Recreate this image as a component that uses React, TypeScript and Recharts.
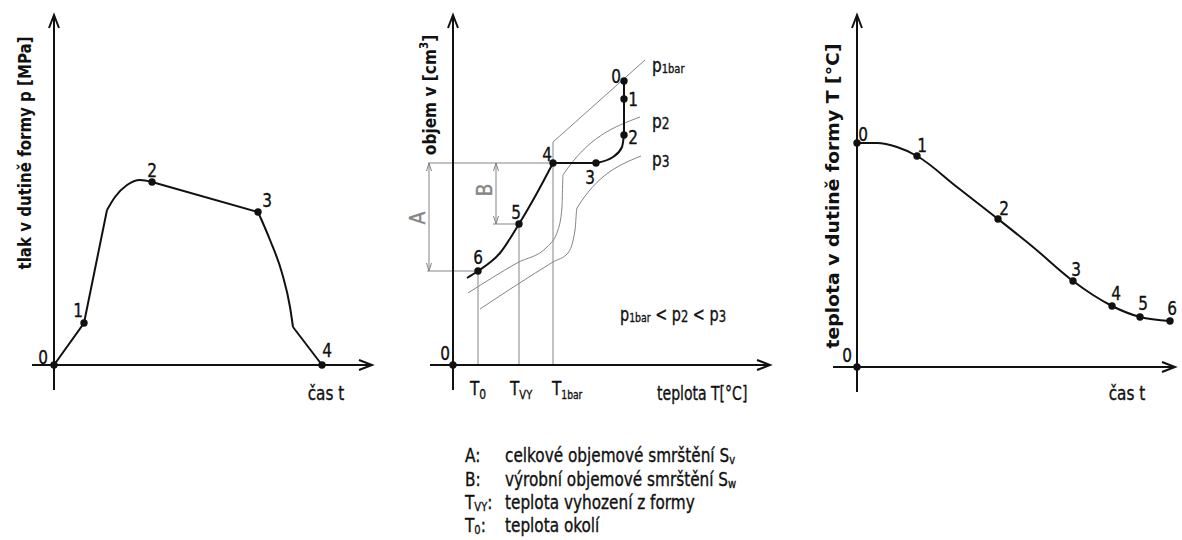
import React from "react";
import { ComposedChart, Line, Scatter, XAxis, YAxis, ReferenceLine } from "recharts";

const FONT = "'DejaVu Sans Condensed', 'Liberation Sans Narrow', 'DejaVu Sans', sans-serif";
const INK = "#111";
const GRAY = "#858585";

// panel 1: tlak v dutině formy p vs. čas t
const pressureRise = [{ x: 0, y: 0 }, { x: 30, y: 42 }, { x: 53, y: 155 }];
const pressurePeak = [{ x: 53, y: 155 }, { x: 61, y: 168 }, { x: 73, y: 180 }, { x: 86, y: 185 }, { x: 98, y: 183 }];
const pressureHold = [{ x: 98, y: 183 }, { x: 204, y: 153 }];
const pressureDrop = [{ x: 204, y: 153 }, { x: 216, y: 125 }, { x: 228, y: 92 }, { x: 236, y: 58 }, { x: 239, y: 38 }];
const pressureTail = [{ x: 239, y: 38 }, { x: 268, y: 0 }];
const pressurePoints = [
  { x: 0, y: 0, label: "0" },
  { x: 30, y: 42, label: "1" },
  { x: 98, y: 183, label: "2" },
  { x: 204, y: 153, label: "3" },
  { x: 268, y: 0, label: "4" },
];

// panel 2: objem v vs. teplota T (p-v-T)
const volCooling = [{ x: 14, y: 87 }, { x: 25, y: 94 }, { x: 47, y: 112 }, { x: 66, y: 141 }, { x: 84, y: 172 }, { x: 100, y: 202 }];
const volCrystal = [{ x: 100, y: 202 }, { x: 143, y: 202 }];
const volBend = [{ x: 143, y: 202 }, { x: 160, y: 208 }, { x: 169, y: 218 }, { x: 171, y: 230 }];
const volFill = [{ x: 171, y: 230 }, { x: 171, y: 266 }, { x: 171, y: 284 }];
const volPoints = [
  { x: 0, y: 0, label: "0" },
  { x: 171, y: 284, label: "0" },
  { x: 171, y: 266, label: "1" },
  { x: 171, y: 230, label: "2" },
  { x: 143, y: 202, label: "3" },
  { x: 100, y: 202, label: "4" },
  { x: 66, y: 141, label: "5" },
  { x: 25, y: 94, label: "6" },
];
const isoP1bar = [{ x: 100, y: 0 }, { x: 100, y: 223 }, { x: 192, y: 305 }];
const isoP2 = [{ x: 15, y: 72 }, { x: 64, y: 102 }, { x: 94, y: 118 }, { x: 105, y: 135 }, { x: 109, y: 158 }, { x: 110, y: 190 }, { x: 187, y: 248 }];
const isoP3 = [{ x: 27, y: 56 }, { x: 100, y: 103 }, { x: 115, y: 112 }, { x: 122, y: 135 }, { x: 124, y: 157 }, { x: 188, y: 209 }];
const T0 = 25;
const TVY = 66;
const V4 = 202;
const V5 = 141;
const V6 = 94;

// panel 3: teplota v dutině formy T vs. čas t
const tempCurve = [
  { x: 0, y: 224 }, { x: 20, y: 224 }, { x: 40, y: 220 }, { x: 60, y: 211 }, { x: 100, y: 180 }, { x: 141, y: 148 },
  { x: 176, y: 120 }, { x: 216, y: 86 }, { x: 236, y: 72 }, { x: 255, y: 61 }, { x: 283, y: 50 }, { x: 313, y: 46 },
];
const tempPoints = [
  { x: 0, y: 0, label: "0" },
  { x: 0, y: 224, label: "0" },
  { x: 60, y: 211, label: "1" },
  { x: 141, y: 148, label: "2" },
  { x: 216, y: 86, label: "3" },
  { x: 255, y: 61, label: "4" },
  { x: 283, y: 50, label: "5" },
  { x: 313, y: 46, label: "6" },
];

// label offsets from each point, same order as the point lists
const P1_OFFSETS = [[-11, -8], [-6, -13], [0, -12], [9, -12], [5, -15]];
const P2_OFFSETS = [[-8, -12], [-8, -5], [9, 0], [9, 2], [-6, 14], [-6, -9], [-3, -12], [0, -14]];
const P3_OFFSETS = [[-10, -12], [6, -9], [5, -11], [6, -11], [3, -12], [4, -13], [3, -14], [2, -13]];

// narrow, slightly heavy lettering like the drafting font of the original
const Txt = ({ x, y, size = 20, anchor = "start", rot = false, sx = 0.85, bold = false, fill = INK, len, children }: any) => (
  <g transform={`translate(${x},${y})${rot ? " rotate(-90)" : ""} scale(${sx},1)`}>
    <text textAnchor={anchor} fontSize={size} fontWeight={bold ? "bold" : undefined} fill={fill}
      stroke={bold ? undefined : fill} strokeWidth={bold ? undefined : 0.35}
      textLength={len} lengthAdjust={len ? "spacingAndGlyphs" : undefined}>{children}</text>
  </g>
);

const Arrow = (p: any) => {
  const { x1, y1, x2, y2, color, width, head, half, both } = p;
  const tip = (x: number, y: number, ang: number, k: string) => {
    const bx = x - head * Math.cos(ang);
    const by = y - head * Math.sin(ang);
    const px = -Math.sin(ang) * half;
    const py = Math.cos(ang) * half;
    return (
      <polyline key={k} points={`${bx + px},${by + py} ${x},${y} ${bx - px},${by - py}`}
        fill="none" stroke={color} strokeWidth={width} />
    );
  };
  const a = Math.atan2(y2 - y1, x2 - x1);
  return (
    <g>
      <line x1={x1} y1={y1} x2={x2} y2={y2} stroke={color} strokeWidth={width} />
      {tip(x2, y2, a, "e")}
      {both ? tip(x1, y1, a + Math.PI, "s") : null}
    </g>
  );
};

const axisArrows = (xl: number, xr: number, yb: number, yt: number) => [
  <ReferenceLine key="ax" segment={[{ x: xl, y: 0 }, { x: xr, y: 0 }]} ifOverflow="visible"
    shape={(p: any) => <Arrow {...p} color={INK} width={2} head={13} half={5} />} />,
  <ReferenceLine key="ay" segment={[{ x: 0, y: yb }, { x: 0, y: yt }]} ifOverflow="visible"
    shape={(p: any) => <Arrow {...p} color={INK} width={2} head={13} half={5} />} />,
];

const helper = (key: string, a: { x: number; y: number }, b: { x: number; y: number }) => (
  <ReferenceLine key={key} segment={[a, b]} ifOverflow="visible" stroke={GRAY} strokeWidth={1} />
);

const dimension = (key: string, x: number, ya: number, yb: number) => (
  <ReferenceLine key={key} segment={[{ x, y: ya }, { x, y: yb }]} ifOverflow="visible"
    shape={(p: any) => <Arrow {...p} color={GRAY} width={1} head={8} half={2.5} both />} />
);

const numbered = (points: any[], offsets: number[][]) => (p: any) => {
  const i = points.indexOf(p.payload);
  const [dx, dy] = offsets[i] ?? [0, -12];
  return (
    <g fontFamily={FONT}>
      <circle cx={p.cx} cy={p.cy} r={3.7} fill={INK} />
      <Txt x={p.cx + dx} y={p.cy + dy + 7} anchor="middle">{p.payload.label}</Txt>
    </g>
  );
};

const curve = (key: string, data: any[], type: "linear" | "monotone", color = INK, w = 2) => (
  <Line key={key} data={data} dataKey="y" type={type} stroke={color} strokeWidth={w}
    dot={false} activeDot={false} isAnimationActive={false} />
);

const MARGIN = { top: 0, right: 0, bottom: 0, left: 0 };

export default function App() {
  return (
    <div style={{ position: "absolute", left: 0, top: 0, width: 1182, height: 540, background: "#fff", overflow: "hidden" }}>
      <div style={{ position: "absolute", left: 0, top: 0 }}>
        <ComposedChart width={400} height={420} margin={MARGIN}>
          <XAxis type="number" dataKey="x" domain={[-54, 346]} hide allowDataOverflow />
          <YAxis type="number" dataKey="y" domain={[-55, 365]} hide allowDataOverflow />
          {axisArrows(-22, 318, -25, 350)}
          {curve("r", pressureRise, "linear")}
          {curve("k", pressurePeak, "monotone")}
          {curve("h", pressureHold, "linear")}
          {curve("d", pressureDrop, "monotone")}
          {curve("t", pressureTail, "linear")}
          <Scatter data={pressurePoints} shape={numbered(pressurePoints, P1_OFFSETS)} isAnimationActive={false} />
        </ComposedChart>
      </div>

      <div style={{ position: "absolute", left: 400, top: 0 }}>
        <ComposedChart width={400} height={420} margin={MARGIN}>
          <XAxis type="number" dataKey="x" domain={[-53, 347]} hide allowDataOverflow />
          <YAxis type="number" dataKey="y" domain={[-55, 365]} hide allowDataOverflow />
          {helper("v0", { x: T0, y: 0 }, { x: T0, y: V6 })}
          {helper("vy", { x: TVY, y: 0 }, { x: TVY, y: V5 })}
          {helper("h4", { x: -25, y: V4 }, { x: 100, y: V4 })}
          {helper("h5", { x: 40, y: V5 }, { x: TVY, y: V5 })}
          {helper("h6", { x: -26, y: V6 }, { x: T0, y: V6 })}
          {dimension("A", -24, V6, V4)}
          {dimension("B", 43, V5, V4)}
          {curve("i1", isoP1bar, "linear", GRAY, 1)}
          {curve("i2", isoP2, "monotone", GRAY, 1)}
          {curve("i3", isoP3, "monotone", GRAY, 1)}
          {axisArrows(-23, 317, -25, 350)}
          {curve("c", volCooling, "monotone")}
          {curve("x", volCrystal, "linear")}
          {curve("b", volBend, "monotone")}
          {curve("f", volFill, "linear")}
          <Scatter data={volPoints} shape={numbered(volPoints, P2_OFFSETS)} isAnimationActive={false} />
        </ComposedChart>
      </div>

      <div style={{ position: "absolute", left: 800, top: 0 }}>
        <ComposedChart width={382} height={420} margin={MARGIN}>
          <XAxis type="number" dataKey="x" domain={[-57, 325]} hide allowDataOverflow />
          <YAxis type="number" dataKey="y" domain={[-53, 367]} hide allowDataOverflow />
          {axisArrows(-24, 318, -25, 352)}
          {curve("T", tempCurve, "monotone")}
          <Scatter data={tempPoints} shape={numbered(tempPoints, P3_OFFSETS)} isAnimationActive={false} />
        </ComposedChart>
      </div>

      <svg width={1182} height={540} style={{ position: "absolute", left: 0, top: 0, pointerEvents: "none" }}
        fontFamily={FONT}>
        {/* panel 1 */}
        <Txt x={31} y={153} rot anchor="middle" size={18} sx={1} bold len={233}>tlak v dutině formy p [MPa]</Txt>
        <Txt x={326} y={400} anchor="middle">čas t</Txt>

        {/* panel 2 */}
        <Txt x={436} y={95} rot anchor="middle" size={18} sx={0.95} bold>
          objem v [cm<tspan fontSize={12} dy={-8}>3</tspan><tspan dy={8}>]</tspan>
        </Txt>
        <Txt x={470} y={395}>T<tspan fontSize={14} dy={4}>0</tspan></Txt>
        <Txt x={510} y={395}>T<tspan fontSize={13} dy={4}>VY</tspan></Txt>
        <Txt x={552} y={395}>T<tspan fontSize={12} dy={4}>1bar</tspan></Txt>
        <Txt x={657} y={400} sx={0.78}>teplota T[°C]</Txt>
        <Txt x={652} y={72}>p<tspan fontSize={13} dy={1}>1bar</tspan></Txt>
        <Txt x={652} y={128}>p<tspan fontSize={16} dy={1}>2</tspan></Txt>
        <Txt x={652} y={166}>p<tspan fontSize={16} dy={1}>3</tspan></Txt>
        <Txt x={620} y={321} sx={0.8}>
          p<tspan fontSize={13} dy={1}>1bar</tspan><tspan dy={-1}> &lt; p</tspan><tspan fontSize={16} dy={1}>2</tspan>
          <tspan dy={-1}> &lt; p</tspan><tspan fontSize={16} dy={1}>3</tspan>
        </Txt>
        <Txt x={425} y={218} rot anchor="middle" size={21} sx={1} fill={GRAY}>A</Txt>
        <Txt x={492} y={190} rot anchor="middle" size={21} sx={1} fill={GRAY}>B</Txt>

        {/* panel 3 */}
        <Txt x={839} y={196} rot anchor="middle" size={18} sx={1} bold len={305}>teplota v dutině formy T [°C]</Txt>
        <Txt x={1127} y={400} anchor="middle">čas t</Txt>

        {/* legend */}
        <Txt x={465} y={462}>A:</Txt>
        <Txt x={505} y={462}>celkové objemové smrštění S<tspan fontSize={13} dy={2}>v</tspan></Txt>
        <Txt x={465} y={486}>B:</Txt>
        <Txt x={505} y={486}>výrobní objemové smrštění S<tspan fontSize={13} dy={2}>w</tspan></Txt>
        <Txt x={465} y={509}>T<tspan fontSize={13} dy={2}>VY</tspan><tspan dy={-2}>:</tspan></Txt>
        <Txt x={505} y={509}>teplota vyhození z formy</Txt>
        <Txt x={465} y={532}>T<tspan fontSize={13} dy={2}>0</tspan><tspan dy={-2}>:</tspan></Txt>
        <Txt x={505} y={532}>teplota okolí</Txt>
      </svg>
    </div>
  );
}
